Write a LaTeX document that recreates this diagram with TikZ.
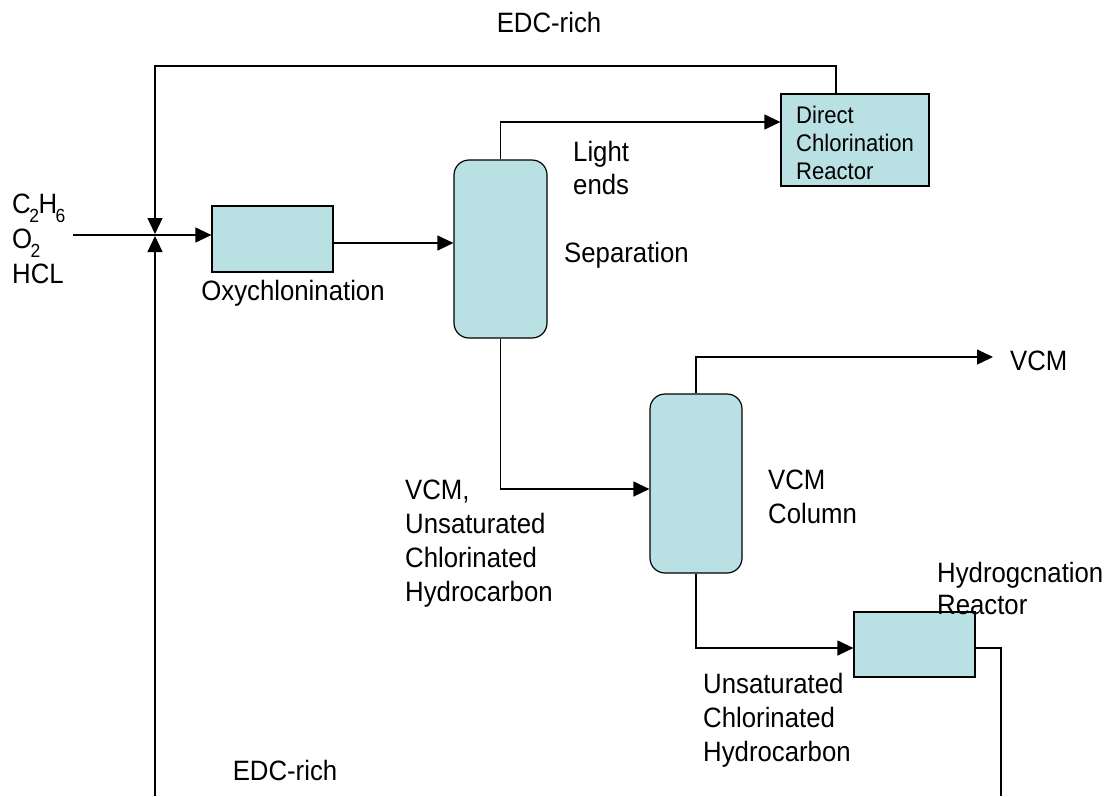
\documentclass[tikz,border=0pt]{standalone}
\usepackage{fontspec}
\setmainfont{Liberation Sans}[FakeStretch=0.92]
\usetikzlibrary{arrows.meta}
\definecolor{boxfill}{RGB}{185,224,227}
\newcommand\lowsub[1]{\kern-1.5pt\raisebox{-0.3em}{\fontsize{19}{19}\selectfont #1}\kern-0.5pt}
\begin{document}
\begin{tikzpicture}[x=1pt,y=-1pt,
  flow/.style={line width=1.2pt,-{Triangle[length=16pt,width=15pt]}},
  pipe/.style={line width=1.2pt},
  unit/.style={draw=black,line width=1.2pt,fill=boxfill,inner sep=0pt},
  column/.style={unit,rounded corners=15pt},
  lbl/.style={inner sep=0pt,align=left,font=\fontsize{28}{34}\selectfont},
  small/.style={inner sep=0pt,align=left,font=\fontsize{24}{28}\selectfont}]
\useasboundingbox (0,0) rectangle (1113,796);
\fill[white] (0,0) rectangle (1113,796);

% units
\node[unit,minimum width=121pt,minimum height=66pt] (oxy) at (272.5,239) {};
\node[column,minimum width=93pt,minimum height=178pt] (sep) at (500.5,249) {};
\node[unit,minimum width=148pt,minimum height=92pt] (dcr) at (855,140) {};
\node[column,minimum width=92pt,minimum height=179pt] (vcmc) at (696,483.5) {};
\node[unit,minimum width=121pt,minimum height=65pt] (hyd) at (914.5,644.5) {};

% coordinates
\coordinate (feed) at (73,235);
\coordinate (jtop) at (155,234);
\coordinate (jbot) at (155,236);
\coordinate (tr) at (836,66);
\coordinate (tl) at (155,66);
\coordinate (bl) at (155,796);
\coordinate (y243) at (0,243);
\coordinate (y122) at (0,122);
\coordinate (y489) at (0,489);
\coordinate (vcmout) at (993,357);
\coordinate (y648) at (0,648);
\coordinate (hr) at (1001,648);
\coordinate (hb) at (1001,796);

% connectors
\draw[flow] (feed) -- (oxy.west |- feed);
\draw[flow] (dcr.north -| tr) -- (tr) -- (tl) -- (jtop);
\draw[flow] (bl) -- (jbot);
\draw[flow] (oxy.east |- y243) -- (sep.west |- y243);
\draw[flow] (sep.north) -- (sep.north |- y122) -- (dcr.west |- y122);
\draw[flow] (sep.south) -- (sep.south |- y489) -- (vcmc.west |- y489);
\draw[flow] (vcmc.north) -- (vcmc.north |- vcmout) -- (vcmout);
\draw[flow] (vcmc.south) -- (vcmc.south |- y648) -- (hyd.west |- y648);
\draw[pipe] (hyd.east |- hr) -- (hr) -- (hb);

% labels
\node[lbl,anchor=base] (edctop) at (549,32) {EDC-rich};
\node[lbl,anchor=base] (edcbot) at (285,780) {EDC-rich};
\node[lbl,anchor=north west,font=\fontsize{28}{35}\selectfont] (feedtxt) at (12,194)
  {C\lowsub{2}H\lowsub{6}\\O\lowsub{2}\\HCL};
\node[lbl,anchor=base] (oxytxt) at (293,300) {Oxychlonination};
\node[lbl,anchor=north west,font=\fontsize{28}{33}\selectfont] (lighttxt) at (573,141) {Light\\ends};
\node[lbl,anchor=base west] (septxt) at (564,262) {Separation};
\node[small,anchor=north west] (dcrtxt) at (796,106) {Direct\\Chlorination\\Reactor};
\node[lbl,anchor=base west] (vcmtxt) at (1010,370) {VCM};
\node[lbl,anchor=north west] (coltxt) at (768,470) {VCM\\Column};
\node[lbl,anchor=north west] (mixtxt) at (405,480) {VCM,\\Unsaturated\\Chlorinated\\Hydrocarbon};
\node[lbl,anchor=north west,font=\fontsize{28}{32}\selectfont] (hydtxt) at (937,562) {Hydrogcnation\\Reactor};
\node[lbl,anchor=north west] (unstxt) at (703,673) {Unsaturated\\Chlorinated\\Hydrocarbon};
\end{tikzpicture}
\end{document}
